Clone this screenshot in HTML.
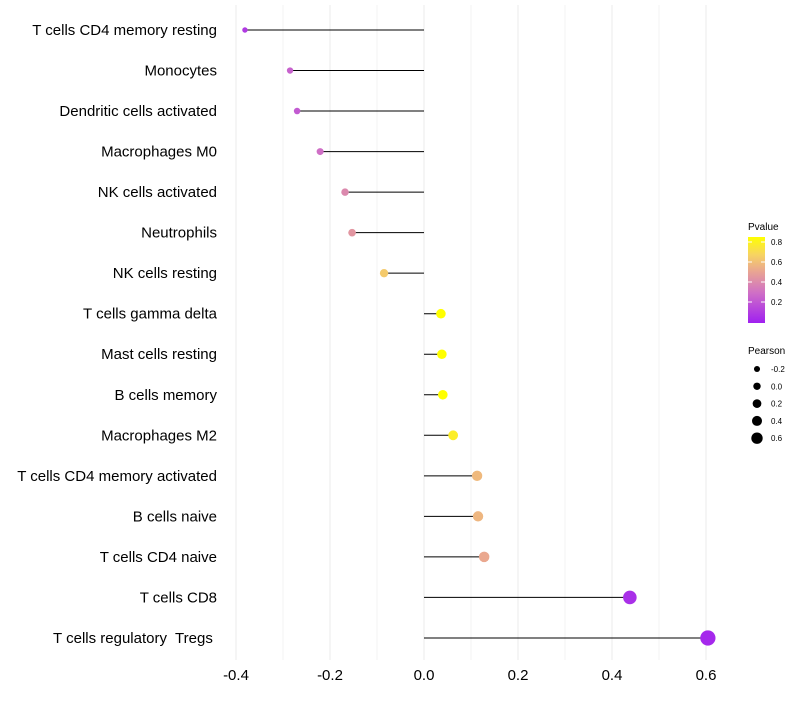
<!DOCTYPE html>
<html><head><meta charset="utf-8"><style>
body{margin:0;background:#fff;font-family:"Liberation Sans",sans-serif;}
text{white-space:pre;}
</style></head><body>
<svg id="chart" width="800" height="700" xmlns="http://www.w3.org/2000/svg">
<defs><linearGradient id="pg" x1="0" y1="1" x2="0" y2="0">
<stop offset="0" stop-color="#A020F0"/><stop offset="0.35" stop-color="#CF6FC6"/><stop offset="0.6" stop-color="#E9A592"/><stop offset="0.8" stop-color="#F7D560"/><stop offset="1" stop-color="#FFFF00"/></linearGradient></defs>
<g id="grid"></g><g id="marks"></g><g id="labels"></g><g id="legend"></g>
</svg>
<script>
const categories=["T cells CD4 memory resting","Monocytes","Dendritic cells activated","Macrophages M0","NK cells activated","Neutrophils","NK cells resting","T cells gamma delta","Mast cells resting","B cells memory","Macrophages M2","T cells CD4 memory activated","B cells naive","T cells CD4 naive","T cells CD8","T cells regulatory  Tregs "];
const pearson=[-0.381,-0.285,-0.270,-0.221,-0.168,-0.153,-0.085,0.036,0.038,0.040,0.062,0.113,0.115,0.128,0.438,0.604];
const pvalue=[0.10,0.25,0.22,0.30,0.40,0.45,0.64,0.85,0.85,0.85,0.78,0.58,0.57,0.52,0.06,0.03];
const xTicks=[-0.4,-0.2,0.0,0.2,0.4,0.6];
const xTickLabels=["-0.4","-0.2","0.0","0.2","0.4","0.6"];
const NS="http://www.w3.org/2000/svg";
function xs(v){return 424+v*470;}
function ys(i){return 30+i*40.53;}
function rs(p){return 4.6+p*5;}
function rl(p){return 3.7+p*3.3;}
function lerp(a,b,t){return Math.round(a+(b-a)*t);}
const stops=[[0,[160,32,240]],[0.3,[207,111,198]],[0.51,[233,165,146]],[0.68,[247,213,96]],[0.85,[255,255,0]]];
function col(p){p=Math.max(0,Math.min(0.85,p));for(let k=1;k<stops.length;k++){if(p<=stops[k][0]){const a=stops[k-1],b=stops[k];const t=(p-a[0])/(b[0]-a[0]);return `rgb(${lerp(a[1][0],b[1][0],t)},${lerp(a[1][1],b[1][1],t)},${lerp(a[1][2],b[1][2],t)})`;}}return "#ff0";}
function mk(tag,attrs,parent,text){const e=document.createElementNS(NS,tag);for(const k in attrs)e.setAttribute(k,attrs[k]);if(text!==undefined)e.textContent=text;parent.appendChild(e);return e;}
const grid=document.getElementById('grid'),marks=document.getElementById('marks'),labels=document.getElementById('labels'),legend=document.getElementById('legend');
for(let v=-0.4;v<=0.601;v+=0.1){const g=mk('line',{x1:xs(v),x2:xs(v),y1:5,y2:660,stroke:'#ebebeb','stroke-width':Math.abs(Math.round(v*10))%2===0?1:0.6},grid);

}
xTicks.forEach((v,i)=>{const t=mk('text',{x:xs(v),y:680,'text-anchor':'middle','font-size':15,fill:'#000'},labels,xTickLabels[i]);

});
categories.forEach((c,i)=>{const y=ys(i);
const t=mk('text',{x:217,y:y+5,'text-anchor':'end','font-size':15,fill:'#000'},labels,c);


const l=mk('line',{x1:xs(0),x2:xs(pearson[i]),y1:y,y2:y,stroke:'#000','stroke-width':1},marks);


const d=mk('circle',{cx:xs(pearson[i]),cy:y,r:rs(pearson[i]),fill:col(pvalue[i])},marks);

});
const lt=mk('text',{x:748,y:230,'font-size':10},legend,'Pvalue');


const cb=mk('rect',{x:748,y:237,width:17,height:86,fill:'url(#pg)'},legend);


[0.8,0.6,0.4,0.2].forEach(p=>{const y=322-p*100;mk('line',{x1:748,x2:752,y1:y,y2:y,stroke:'#fff'},legend);mk('line',{x1:761,x2:765,y1:y,y2:y,stroke:'#fff'},legend);
const t=mk('text',{x:771,y:y+3,'font-size':8},legend,p.toFixed(1));

});
const pt=mk('text',{x:748,y:354,'font-size':10},legend,'Pearson');


[-0.2,0,0.2,0.4,0.6].forEach((p,k)=>{const y=369+k*17.3;
const c=mk('circle',{cx:757,cy:y,r:rl(p)},legend);


const t=mk('text',{x:771,y:y+3,'font-size':8},legend,p.toFixed(1));

});
</script>
</body></html>
